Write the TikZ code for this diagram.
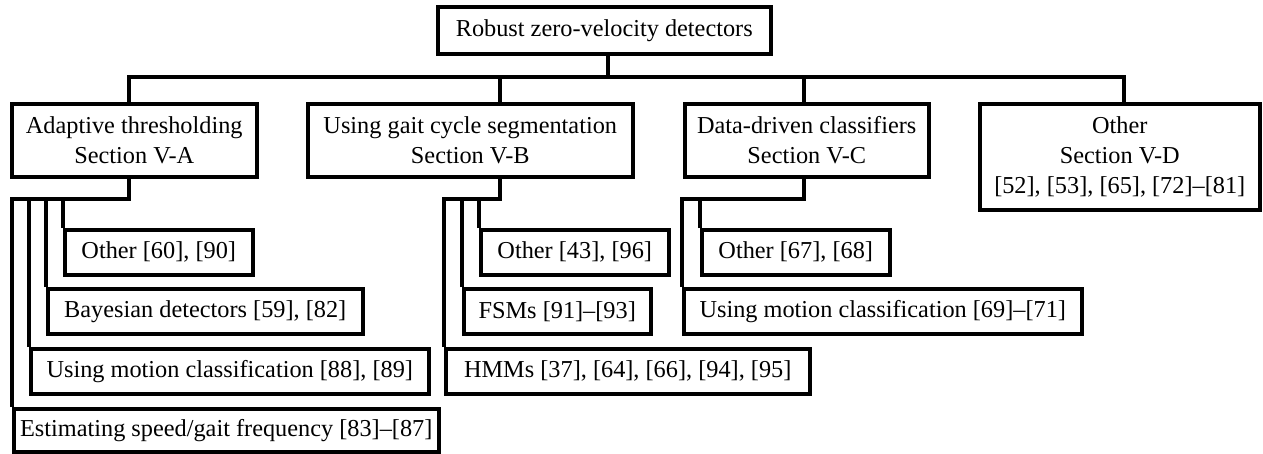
\documentclass[tikz,border=0pt]{standalone}
\usepackage{fontspec}
\setmainfont{Liberation Serif}
\begin{document}
\begin{tikzpicture}[x=1pt,y=-1pt,
  line width=3.5pt, line join=miter,
  box/.style={draw, inner sep=0pt, anchor=north west, align=center,
    font=\fontsize{24.3}{30}\selectfont}]
\useasboundingbox (0,0) rectangle (1263,453);
% level 0
\node[box, minimum width=333, minimum height=47] (top) at (436,5) {Robust zero-velocity detectors};
% level 1
\node[box, minimum width=245, minimum height=73] (A) at (10,102) {Adaptive thresholding\\Section V-A};
\node[box, minimum width=325, minimum height=73] (B) at (306,102) {Using gait cycle segmentation\\Section V-B};
\node[box, minimum width=244, minimum height=73] (C) at (683,102) {Data-driven classifiers\\Section V-C};
\node[box, minimum width=280, minimum height=106] (D) at (978,102) {Other\\Section V-D\\{}[52], [53], [65], [72]--[81]};
% level 2 under A
\node[box, minimum width=188, minimum height=45] (A1) at (63,228) {Other [60], [90]};
\node[box, minimum width=315, minimum height=45] (A2) at (46,287) {Bayesian detectors [59], [82]};
\node[box, minimum width=398, minimum height=45] (A3) at (29,347) {Using motion classification [88], [89]};
\node[box, minimum width=425, minimum height=43] (A4) at (12,407) {Estimating speed/gait frequency [83]--[87]};
% level 2 under B
\node[box, minimum width=188, minimum height=45] (B1) at (479,228) {Other [43], [96]};
\node[box, minimum width=187, minimum height=45] (B2) at (462,287) {FSMs [91]--[93]};
\node[box, minimum width=364, minimum height=45] (B3) at (444,347) {HMMs [37], [64], [66], [94], [95]};
% level 2 under C
\node[box, minimum width=188, minimum height=45] (C1) at (700,228) {Other [67], [68]};
\node[box, minimum width=398, minimum height=45] (C2) at (682,287) {Using motion classification [69]--[71]};
% connectors level 0-1
\coordinate (bus) at (608,77);
\draw (top.south -| bus) -- (bus);
\draw ([xshift=-5.5]A.north) |- (bus) -| ([xshift=4]D.north);
\draw ([xshift=29.5]B.north) -- ([xshift=29.5]B.north |- bus);
\draw ([xshift=-3]C.north) -- ([xshift=-3]C.north |- bus);
% connectors level 1-2
\coordinate (j) at (0,199);
\draw ([xshift=-5.5]A.south) |- (A4.north west |- j) -- (A4.north west);
\draw (A3.north west) -- (A3.north west |- j);
\draw (A2.north west) -- (A2.north west |- j);
\draw (A1.north west) -- (A1.north west |- j);
\draw ([xshift=29.5]B.south) |- (B3.north west |- j) -- (B3.north west);
\draw (B2.north west) -- (B2.north west |- j);
\draw (B1.north west) -- (B1.north west |- j);
\draw ([xshift=-3]C.south) |- (C2.north west |- j) -- (C2.north west);
\draw (C1.north west) -- (C1.north west |- j);
\end{tikzpicture}
\end{document}
